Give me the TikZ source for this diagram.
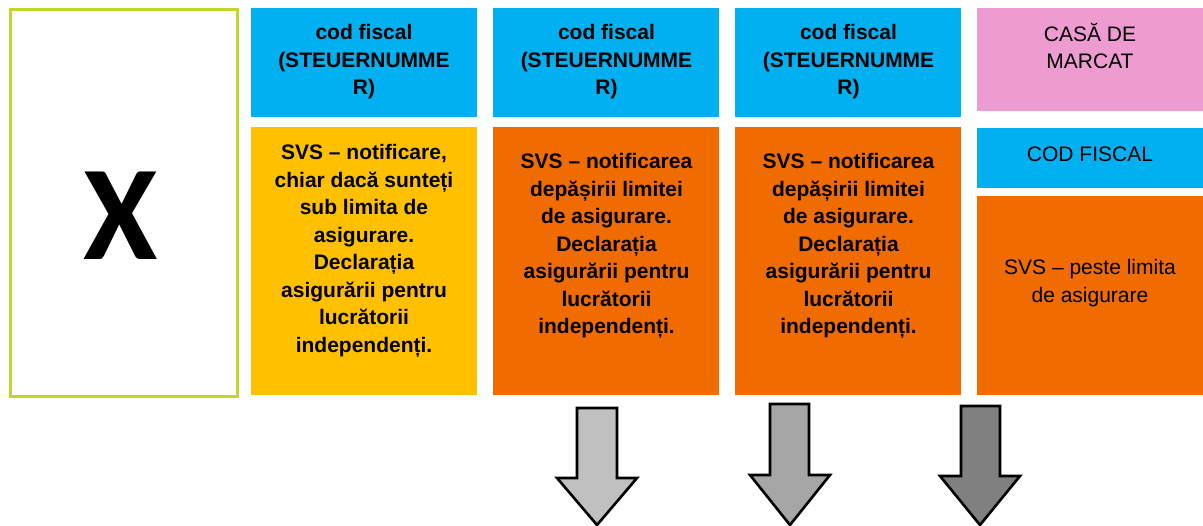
\documentclass[tikz,border=0pt]{standalone}
\usepackage{fontspec}
\setmainfont{Liberation Sans}
\newfontfamily\xfont{Carlito}
\definecolor{cblue}{HTML}{00B0F0}
\definecolor{corange}{HTML}{F06C00}
\definecolor{cyellow}{HTML}{FFC000}
\definecolor{cpink}{HTML}{EE9BD2}
\definecolor{cgreen}{HTML}{C4D532}
\definecolor{agrayA}{HTML}{C0C0C0}
\definecolor{agrayB}{HTML}{A6A6A6}
\definecolor{agrayC}{HTML}{808080}
\begin{document}
\begin{tikzpicture}[x=1pt,y=-1pt,
  box/.style={fill=#1, draw=none, inner sep=0pt, anchor=north west, minimum width=226pt},
  label/.style={inner sep=0pt, align=center, font=\fontsize{21}{27.5}\selectfont\bfseries},
  plainlabel/.style={inner sep=0pt, align=center, font=\fontsize{21}{27.5}\selectfont},
  bigarrow/.style={draw=black, line width=2.6pt, line join=miter, fill=#1}]
\useasboundingbox (0,0) rectangle (1203,526);
\fill[white] (0,0) rectangle (1203,526);

% left box with X
\node[draw=cgreen, line width=3pt, inner sep=0pt, minimum width=227pt, minimum height=387pt, anchor=north west] (xbox) at (8.5,8.5) {};
\node[inner sep=0pt, anchor=base, font=\xfont\bfseries\fontsize{135}{140}\selectfont] (xmark) at (121,260) {X};

% column 2
\node[box=cblue, minimum height=109pt] (h2) at (251,8) {};
\node[box=cyellow, minimum height=268pt] (b2) at (251,127) {};
\node[label] (h2t) at (364,62) {cod fiscal\\(STEUERNUMME\\R)};
\node[label] (b2t) at (364,251) {SVS – notificare,\\chiar dacă sunteți\\sub limita de\\asigurare.\\Declarația\\asigurării pentru\\lucrătorii\\independenți.};

% column 3
\node[box=cblue, minimum height=109pt] (h3) at (493,8) {};
\node[box=corange, minimum height=268pt] (b3) at (493,127) {};
\node[label] (h3t) at (606.5,62) {cod fiscal\\(STEUERNUMME\\R)};
\node[label] (b3t) at (606.5,246) {SVS – notificarea\\depășirii limitei\\de asigurare.\\Declarația\\asigurării pentru\\lucrătorii\\independenți.};

% column 4
\node[box=cblue, minimum height=109pt] (h4) at (735,8) {};
\node[box=corange, minimum height=268pt] (b4) at (735,127) {};
\node[label] (h4t) at (848.5,62) {cod fiscal\\(STEUERNUMME\\R)};
\node[label] (b4t) at (848.5,246) {SVS – notificarea\\depășirii limitei\\de asigurare.\\Declarația\\asigurării pentru\\lucrătorii\\independenți.};

% column 5
\node[box=cpink, minimum height=103pt] (h5) at (977,8) {};
\node[box=cblue, minimum height=60pt] (c5) at (977,128) {};
\node[box=corange, minimum height=199pt] (b5) at (977,196) {};
\node[plainlabel] (h5t) at (1090,46) {CASĂ DE\\MARCAT};
\node[plainlabel] (c5t) at (1090,154) {COD FISCAL};
\node[plainlabel] (b5t) at (1090,283) {SVS – peste limita\\de asigurare};

% arrows
\draw[bigarrow=agrayA] (577,408) -- (617,408) -- (617,478) -- (637,478) -- (597,525) -- (557,478) -- (577,478) -- cycle;
\draw[bigarrow=agrayB] (770,404) -- (809,404) -- (809,475) -- (830,475) -- (790,525) -- (750,475) -- (770,475) -- cycle;
\draw[bigarrow=agrayC] (961,406) -- (1000,406) -- (1000,476) -- (1020,476) -- (980,525) -- (940,476) -- (961,476) -- cycle;
\end{tikzpicture}
\end{document}
